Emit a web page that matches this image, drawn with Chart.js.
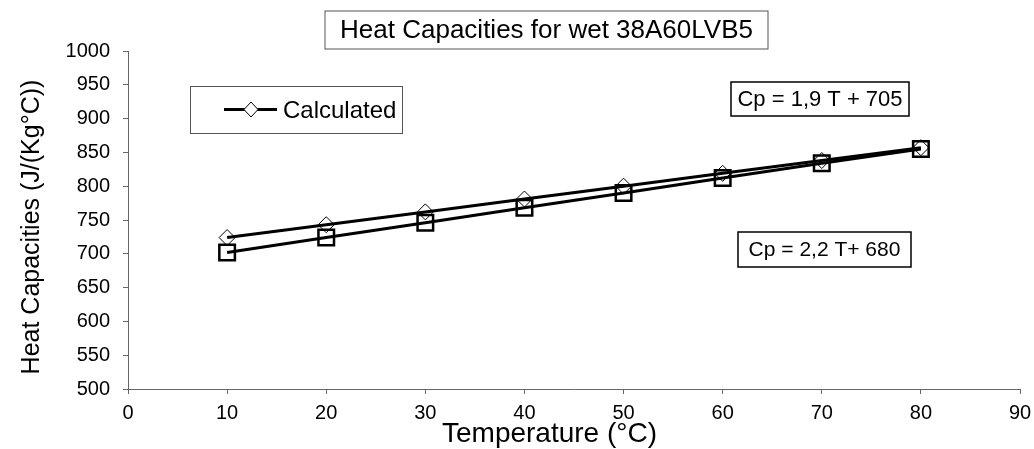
<!DOCTYPE html>
<html>
<head>
<meta charset="utf-8">
<script src="https://cdn.jsdelivr.net/npm/chart.js@4/dist/chart.umd.min.js"></script>
<style>
	html, body { margin: 0; padding: 0; background: #fff; }
	#wrap { width: 1034px; height: 449px; }
</style>
</head>
<body>
<div id="wrap"><canvas id="heatChart" width="1034" height="449"></canvas></div>
<script>
// values
const temperatures = [10, 20, 30, 40, 50, 60, 70, 80];
const calculatedCp = [724, 743, 762, 781, 800, 819, 838, 857];
const measuredCp = [702, 724, 746, 768, 790, 812, 834, 855];

const chartTitle = "Heat Capacities for wet 38A60LVB5";
const xTitle = "Temperature (°C)";
const yTitle = "Heat Capacities (J/(Kg°C))";
const legendLabel = "Calculated";
const fitUpper = "Cp = 1,9 T + 705";
const fitLower = "Cp = 2,2 T+ 680";

const FONT = "'Liberation Sans', Arial, sans-serif";

function toPoints(xs, ys) {
	return xs.map((x, i) => ({ x: x, y: ys[i] }));
}

function boxedText(ctx, text, cx, cy, font, boxW, boxH, border, lineW) {
	ctx.save();
	ctx.font = font;
	ctx.fillStyle = "#fff";
	ctx.fillRect(cx - boxW / 2, cy - boxH / 2, boxW, boxH);
	ctx.strokeStyle = border;
	ctx.lineWidth = lineW;
	ctx.strokeRect(cx - boxW / 2, cy - boxH / 2, boxW, boxH);
	ctx.fillStyle = "#000";
	ctx.textAlign = "center";
	ctx.textBaseline = "middle";
	ctx.fillText(text, cx, cy + 1);
	ctx.restore();
}

// title, legend, fit labels and axis titles
const decorations = {
	id: "decorations",
	afterDraw(chart) {
		const ctx = chart.ctx;

		boxedText(ctx, chartTitle, 546.5, 30, "26px " + FONT, 443, 38, "#555", 1);
		boxedText(ctx, fitUpper, 820, 99, "22px " + FONT, 178, 34, "#000", 1.5);
		boxedText(ctx, fitLower, 824.5, 249.5, "21px " + FONT, 173, 35, "#000", 1.5);

		// legend
		ctx.save();
		ctx.fillStyle = "#fff";
		ctx.fillRect(190, 86, 212, 47);
		ctx.strokeStyle = "#555";
		ctx.lineWidth = 1;
		ctx.strokeRect(190.5, 86.5, 212, 47);
		ctx.strokeStyle = "#000";
		ctx.lineWidth = 3;
		ctx.beginPath();
		ctx.moveTo(224, 109.5);
		ctx.lineTo(277, 109.5);
		ctx.stroke();
		ctx.fillStyle = "#fff";
		ctx.lineWidth = 1;
		ctx.beginPath();
		ctx.moveTo(251, 102);
		ctx.lineTo(258, 109.5);
		ctx.lineTo(251, 117);
		ctx.lineTo(244, 109.5);
		ctx.closePath();
		ctx.fill();
		ctx.stroke();
		ctx.fillStyle = "#000";
		ctx.font = "24px " + FONT;
		ctx.textAlign = "left";
		ctx.textBaseline = "middle";
		ctx.fillText(legendLabel, 283, 111);
		ctx.restore();

		// axis titles
		ctx.save();
		ctx.fillStyle = "#000";
		ctx.font = "28px " + FONT;
		ctx.textAlign = "center";
		ctx.textBaseline = "alphabetic";
		ctx.fillText(xTitle, 549.5, 442);
		ctx.translate(39, 227);
		ctx.rotate(-Math.PI / 2);
		ctx.font = "25px " + FONT;
		ctx.fillText(yTitle, 0, 0);
		ctx.restore();
	},
};

const ctx = document.getElementById("heatChart").getContext("2d");
const chart = new Chart(ctx, {
	type: "scatter",
	data: {
		datasets: [
			{
				label: legendLabel,
				data: toPoints(temperatures, calculatedCp),
				showLine: true,
				borderColor: "#000",
				borderWidth: 3,
				backgroundColor: "rgba(0,0,0,0)",
				pointStyle: "rectRot",
				pointRadius: 8,
				pointBorderWidth: 1,
				pointBorderColor: "#000",
				pointBackgroundColor: "rgba(0,0,0,0)",
			},
			{
				label: "Measured",
				data: toPoints(temperatures, measuredCp),
				showLine: true,
				borderColor: "#000",
				borderWidth: 3,
				backgroundColor: "rgba(0,0,0,0)",
				pointStyle: "rect",
				pointRadius: 11,
				pointBorderWidth: 2.5,
				pointBorderColor: "#000",
				pointBackgroundColor: "rgba(0,0,0,0)",
			},
		],
	},
	options: {
		responsive: false,
		animation: false,
		layout: {
			padding: { left: 0, top: 51, right: 14, bottom: 0 },
		},
		plugins: {
			legend: { display: false },
			title: { display: false },
			tooltip: { enabled: false },
		},
		scales: {
			x: {
				type: "linear",
				min: 0,
				max: 90,
				ticks: {
					stepSize: 10,
					color: "#000",
					padding: 7,
					font: { family: FONT, size: 20 },
					callback: (v) => String(v),
				},
				grid: { drawOnChartArea: false, drawTicks: true, tickLength: 5, color: "#666" },
				border: { color: "#666", width: 1 },
				afterFit(scale) {
					scale.height = 60;
					scale.paddingLeft = 0;
					scale.paddingRight = 0;
				},
			},
			y: {
				min: 500,
				max: 1000,
				ticks: {
					stepSize: 50,
					color: "#000",
					padding: 13,
					font: { family: FONT, size: 20 },
					callback: (v) => String(v),
				},
				grid: { drawOnChartArea: false, drawTicks: true, tickLength: 5, color: "#666" },
				border: { color: "#666", width: 1 },
				afterFit(scale) {
					scale.width = 128;
					scale.paddingTop = 0;
					scale.paddingBottom = 0;
				},
			},
		},
	},
	plugins: [decorations],
});
</script>
</body>
</html>
